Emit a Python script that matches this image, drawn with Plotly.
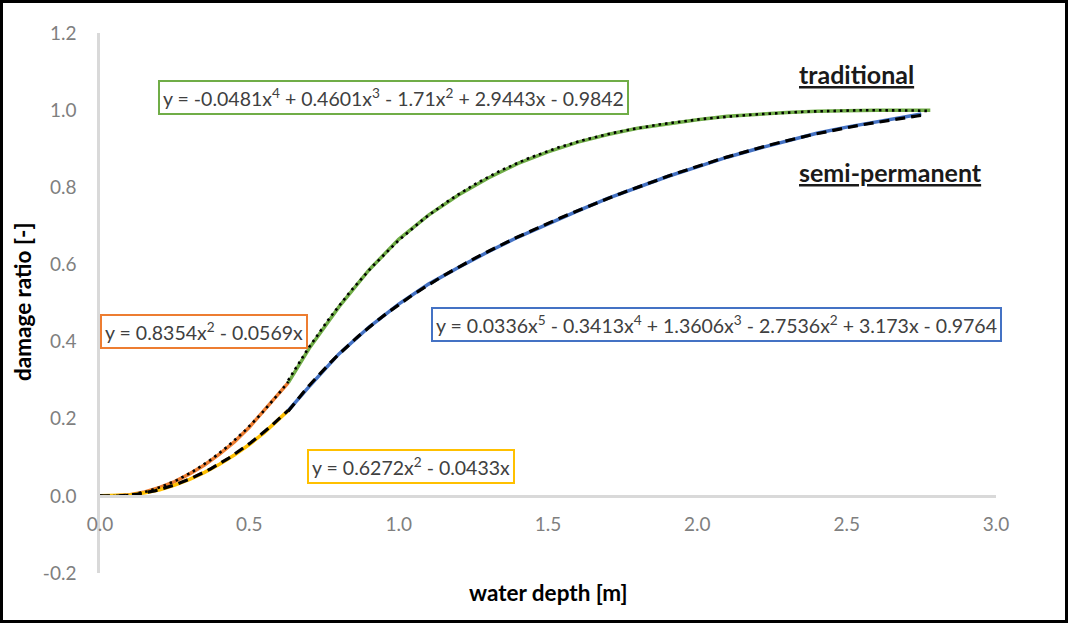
import numpy as np
import plotly.graph_objects as go

# Measured damage ratio per water depth, split at 0.63 m
trad_low_x = [0.0, 0.05, 0.10, 0.15, 0.20, 0.25, 0.30, 0.35, 0.40, 0.45, 0.50, 0.55, 0.60, 0.63]
trad_low_y = [0.0, 0.000, 0.003, 0.010, 0.022, 0.037, 0.057, 0.080, 0.108, 0.140, 0.178, 0.222, 0.268, 0.293]

trad_high_x = [0.63, 0.70, 0.80, 0.90, 1.00, 1.10, 1.20, 1.30, 1.40, 1.50, 1.60, 1.70,
               1.80, 1.90, 2.00, 2.10, 2.20, 2.30, 2.40, 2.50, 2.60, 2.70, 2.78]
trad_high_y = [0.293, 0.382, 0.490, 0.585, 0.665, 0.728, 0.780, 0.824, 0.862, 0.892, 0.917, 0.937,
               0.953, 0.965, 0.975, 0.984, 0.990, 0.994, 0.997, 0.999, 1.000, 1.000, 1.000]

semi_low_x = [0.0, 0.05, 0.10, 0.15, 0.20, 0.25, 0.30, 0.35, 0.40, 0.45, 0.50, 0.55, 0.60, 0.63]
semi_low_y = [0.0, 0.000, 0.002, 0.008, 0.016, 0.028, 0.043, 0.061, 0.082, 0.106, 0.133, 0.164, 0.198, 0.221]

semi_high_x = [0.63, 0.70, 0.80, 0.90, 1.00, 1.10, 1.20, 1.30, 1.40, 1.50, 1.60, 1.70,
               1.80, 1.90, 2.00, 2.10, 2.20, 2.30, 2.40, 2.50, 2.60, 2.70, 2.75]
semi_high_y = [0.221, 0.283, 0.368, 0.437, 0.497, 0.549, 0.592, 0.633, 0.671, 0.706, 0.739, 0.771,
               0.800, 0.828, 0.853, 0.878, 0.900, 0.921, 0.940, 0.956, 0.969, 0.982, 0.990]

# Polynomial trendline coefficients (highest power first)
trad_low_coef = [0.8354, -0.0569, 0.0]
trad_high_coef = [-0.0481, 0.4601, -1.71, 2.9443, -0.9842]
semi_low_coef = [0.6272, -0.0433, 0.0]
semi_high_coef = [0.0336, -0.3413, 1.3606, -2.7536, 3.173, -0.9764]

x_ticks = [0.0, 0.5, 1.0, 1.5, 2.0, 2.5, 3.0]
y_ticks = [-0.2, 0.0, 0.2, 0.4, 0.6, 0.8, 1.0, 1.2]

FONT = "Lato"
ORANGE, GREEN, YELLOW, BLUE = "#ED7D31", "#70AD47", "#FFC000", "#4472C4"
AXIS_GREY = "#d9d9d9"


def equation_text(coefs):
    deg = len(coefs) - 1
    parts = []
    for i, c in enumerate(coefs):
        p = deg - i
        if c == 0:
            continue
        if p == 0:
            term = f"{abs(c):g}"
        elif p == 1:
            term = f"{abs(c):g}x"
        else:
            term = f"{abs(c):g}x<sup>{p}</sup>"
        if not parts:
            parts.append(("-" if c < 0 else "") + term)
        else:
            parts.append((" - " if c < 0 else " + ") + term)
    return "y = " + "".join(parts)


def trend(xs, coefs):
    xt = np.linspace(min(xs), max(xs), 150)
    return xt, np.polyval(coefs, xt)


fig = go.Figure()

# data lines
for xs, ys, col in [(trad_low_x, trad_low_y, ORANGE), (trad_high_x, trad_high_y, GREEN),
                    (semi_low_x, semi_low_y, YELLOW), (semi_high_x, semi_high_y, BLUE)]:
    fig.add_trace(go.Scatter(x=xs, y=ys, mode="lines",
                             line=dict(color=col, width=3.5), hoverinfo="skip"))

# trendlines: round dots for traditional, dashes for semi-permanent
for xs, coefs, dash, w in [(trad_low_x, trad_low_coef, "2.5px,4px", 2.6),
                           (trad_high_x, trad_high_coef, "2.5px,4px", 2.6),
                           (semi_low_x, semi_low_coef, "10px,6px", 3.2),
                           (semi_high_x, semi_high_coef, "10px,6px", 3.2)]:
    xt, yt = trend(xs, coefs)
    fig.add_trace(go.Scatter(x=xt, y=yt, mode="lines",
                             line=dict(color="black", width=w, dash=dash), hoverinfo="skip"))

L, R, T, B = 100, 73, 33, 52
W, H = 1069, 625
PW, PH = W - L - R, H - T - B


def px(xp, yp):
    return (xp - L) / PW, (H - B - yp) / PH


annotations = []
eq_boxes = [
    (trad_high_coef, GREEN, 393.5, 97.5),
    (trad_low_coef, ORANGE, 203.5, 331),
    (semi_high_coef, BLUE, 716.5, 324),
    (semi_low_coef, YELLOW, 410.5, 466.5),
]
for coefs, col, cx, cy in eq_boxes:
    ax, ay = px(cx, cy)
    annotations.append(dict(
        text=equation_text(coefs), x=ax, y=ay, xref="paper", yref="paper",
        xanchor="center", yanchor="middle", showarrow=False,
        font=dict(family=FONT, size=19.5, color="#404040"),
        bordercolor=col, borderwidth=2, borderpad=3, bgcolor="white"))

for label, cx, cy in [("traditional", 856, 74), ("semi-permanent", 890, 172)]:
    ax, ay = px(cx, cy)
    annotations.append(dict(
        text=f"<b><u>{label}</u></b>", x=ax, y=ay, xref="paper", yref="paper",
        xanchor="center", yanchor="middle", showarrow=False,
        font=dict(family=FONT, size=25, color="#1a1a1a")))

ax, ay = px(22, 302)
annotations.append(dict(text="<b>damage ratio [-]</b>", x=ax, y=ay, xref="paper", yref="paper",
                        textangle=-90, showarrow=False, xanchor="center", yanchor="middle",
                        font=dict(family=FONT, size=22.5, color="black")))
ax, ay = px(548, 592)
annotations.append(dict(text="<b>water depth [m]</b>", x=ax, y=ay, xref="paper", yref="paper",
                        showarrow=False, xanchor="center", yanchor="middle",
                        font=dict(family=FONT, size=22.5, color="black")))

x0, y0 = px(1.5, 1.5)
x1, y1 = px(1066.5, 621.5)

fig.update_layout(
    width=W, height=H,
    margin=dict(l=L, r=R, t=T, b=B),
    paper_bgcolor="white", plot_bgcolor="white",
    showlegend=False,
    font=dict(family=FONT),
    annotations=annotations,
    shapes=[dict(type="rect", xref="paper", yref="paper", x0=x0, y0=y1, x1=x1, y1=y0,
                 line=dict(color="black", width=3), fillcolor="rgba(0,0,0,0)", layer="above")],
    xaxis=dict(range=[0, 3], tickvals=x_ticks, ticktext=[f"{v:.1f}" for v in x_ticks],
               showgrid=False, zeroline=False,
               showline=True, linecolor=AXIS_GREY, linewidth=2.5, anchor="free",
               position=0.2 / 1.4, ticks="", ticklabelstandoff=11,
               tickfont=dict(family=FONT, size=19, color="#7f7f7f")),
    yaxis=dict(range=[-0.2, 1.2], tickvals=y_ticks, ticktext=[f"{v:.1f}" for v in y_ticks],
               showgrid=False, zeroline=False,
               showline=True, linecolor=AXIS_GREY, linewidth=2.5, ticks="", ticklabelstandoff=17,
               tickfont=dict(family=FONT, size=19, color="#7f7f7f")),
)

fig.write_html("out.html")
